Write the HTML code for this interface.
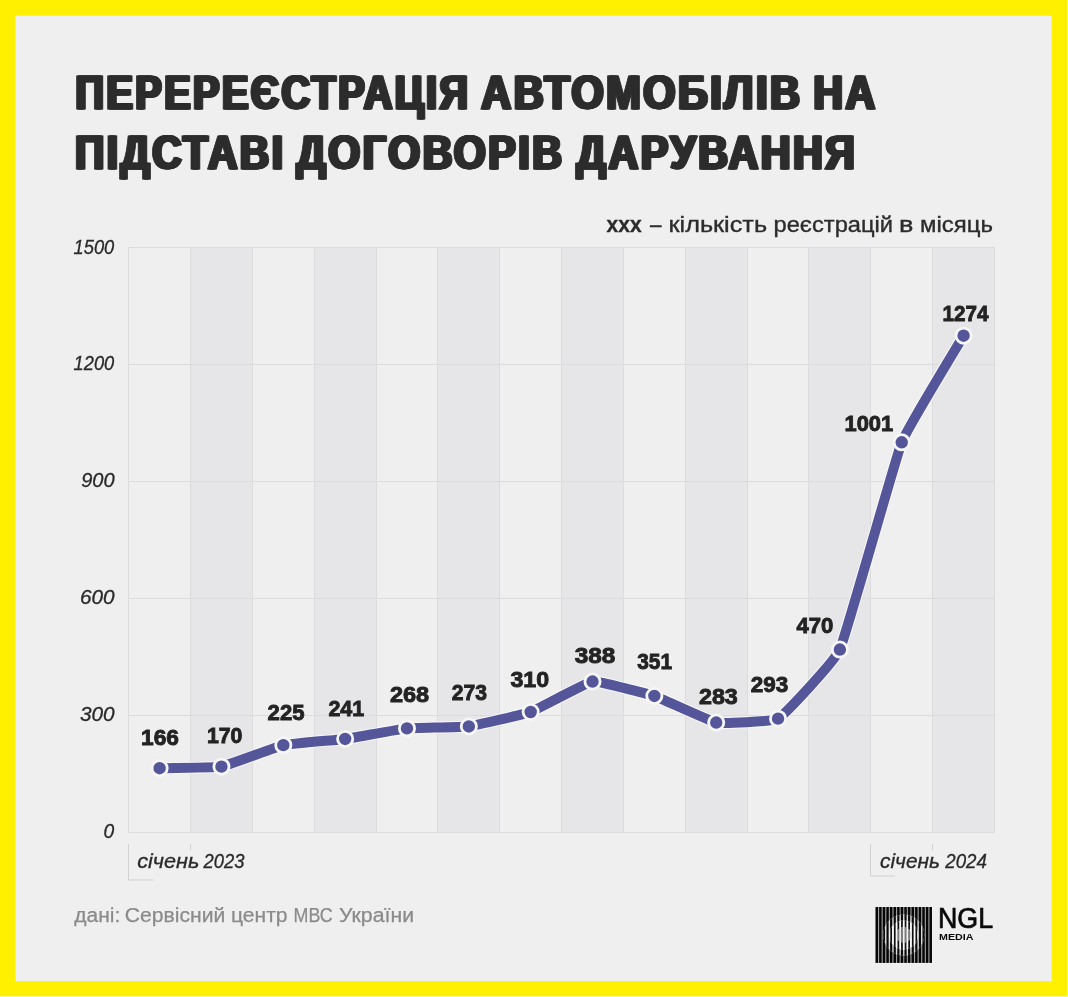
<!DOCTYPE html>
<html lang="uk">
<head>
<meta charset="utf-8">
<title>Перереєстрація автомобілів на підставі договорів дарування</title>
<style>
html,body{margin:0;padding:0;background:#fff000;}
body{width:1068px;height:997px;overflow:hidden;position:relative;font-family:"Liberation Sans",sans-serif;}
svg{position:absolute;left:0;top:0;display:block;}
text{font-family:"Liberation Sans",sans-serif;}
.t{font-weight:700;fill:#2c2c2c;font-size:48.5px;letter-spacing:3px;stroke:#2c2c2c;stroke-width:.9px;stroke-linejoin:miter;filter:drop-shadow(1.6px 0 0 #2c2c2c) drop-shadow(-1.6px 0 0 #2c2c2c);}
.lab{font-weight:700;fill:#232323;font-size:22.8px;stroke:#232323;stroke-width:.9px;}
.ax{font-style:italic;fill:#2a2a2a;font-size:19.6px;stroke:#2a2a2a;stroke-width:.3px;}
.leg{fill:#2c2c2c;font-size:22.5px;stroke:#2c2c2c;stroke-width:.35px;}
.b{font-weight:700;}
.src{fill:#8b8b8b;font-size:20px;stroke:#8b8b8b;stroke-width:.25px;}
.ngl{fill:#0a0a0a;font-size:28.6px;stroke:#0a0a0a;stroke-width:.7px;}
.med{fill:#0a0a0a;font-size:9.3px;font-weight:700;}
</style>
</head>
<body>
<svg width="1068" height="997" viewBox="0 0 1068 997">
<rect x="0" y="0" width="1068" height="997" fill="#fff000"/>
<rect x="1067" y="0" width="1" height="997" fill="#fffa96"/>
<rect x="0" y="996" width="1068" height="1" fill="#fffa96"/>
<rect x="15.5" y="15.7" width="1036.1" height="965.5" fill="#efefef"/>

<g shape-rendering="crispEdges">
<rect x="190.54" y="247.50" width="61.84" height="584.80" fill="#e6e6e8"/>
<rect x="314.23" y="247.50" width="61.84" height="584.80" fill="#e6e6e8"/>
<rect x="437.91" y="247.50" width="61.84" height="584.80" fill="#e6e6e8"/>
<rect x="561.60" y="247.50" width="61.84" height="584.80" fill="#e6e6e8"/>
<rect x="685.29" y="247.50" width="61.84" height="584.80" fill="#e6e6e8"/>
<rect x="808.97" y="247.50" width="61.84" height="584.80" fill="#e6e6e8"/>
<rect x="932.66" y="247.50" width="61.84" height="584.80" fill="#e6e6e8"/>
</g>
<g stroke="#dcdcdc" stroke-width="1" fill="none">
<line x1="128.5" y1="247.5" x2="128.5" y2="832.3"/>
<line x1="190.5" y1="247.5" x2="190.5" y2="832.3"/>
<line x1="252.5" y1="247.5" x2="252.5" y2="832.3"/>
<line x1="314.5" y1="247.5" x2="314.5" y2="832.3"/>
<line x1="376.5" y1="247.5" x2="376.5" y2="832.3"/>
<line x1="437.5" y1="247.5" x2="437.5" y2="832.3"/>
<line x1="499.5" y1="247.5" x2="499.5" y2="832.3"/>
<line x1="561.5" y1="247.5" x2="561.5" y2="832.3"/>
<line x1="623.5" y1="247.5" x2="623.5" y2="832.3"/>
<line x1="685.5" y1="247.5" x2="685.5" y2="832.3"/>
<line x1="747.5" y1="247.5" x2="747.5" y2="832.3"/>
<line x1="808.5" y1="247.5" x2="808.5" y2="832.3"/>
<line x1="870.5" y1="247.5" x2="870.5" y2="832.3"/>
<line x1="932.5" y1="247.5" x2="932.5" y2="832.3"/>
<line x1="994.5" y1="247.5" x2="994.5" y2="832.3"/>
<line x1="128.7" y1="832.5" x2="994.5" y2="832.5"/>
<line x1="128.7" y1="715.5" x2="994.5" y2="715.5"/>
<line x1="128.7" y1="598.5" x2="994.5" y2="598.5"/>
<line x1="128.7" y1="481.5" x2="994.5" y2="481.5"/>
<line x1="128.7" y1="364.5" x2="994.5" y2="364.5"/>
<line x1="128.7" y1="247.5" x2="994.5" y2="247.5"/>
</g>
<g stroke="#d2d2d2" stroke-width="1" fill="none"><path d="M128.5,844 V880.0 H153.0" /><path d="M190.5,844 V850.5"/><path d="M870.5,844 V876.0 H895.0" /><path d="M932.5,844 V850.5"/></g>
<path d="M159.62,768.20 C162.40,768.13 215.90,767.68 221.46,766.64 C227.03,765.61 277.74,746.42 283.31,745.17 C288.87,743.93 339.58,739.68 345.15,738.93 C350.72,738.17 401.43,728.95 406.99,728.39 C412.56,727.83 463.27,727.18 468.84,726.44 C474.40,725.70 525.11,714.02 530.68,712.00 C536.24,709.98 586.96,682.27 592.52,681.55 C598.09,680.83 648.80,694.15 654.36,695.99 C659.93,697.84 710.64,721.52 716.21,722.54 C721.77,723.55 772.48,721.92 778.05,718.63 C783.62,715.35 834.33,661.98 839.89,649.54 C845.46,637.11 896.17,456.40 901.74,442.28 C907.30,428.15 960.80,340.51 963.58,335.72" fill="none" stroke="#fafafa" stroke-width="12" stroke-linejoin="round" stroke-linecap="round" opacity=".85"/>
<path d="M159.62,768.20 C162.40,768.13 215.90,767.68 221.46,766.64 C227.03,765.61 277.74,746.42 283.31,745.17 C288.87,743.93 339.58,739.68 345.15,738.93 C350.72,738.17 401.43,728.95 406.99,728.39 C412.56,727.83 463.27,727.18 468.84,726.44 C474.40,725.70 525.11,714.02 530.68,712.00 C536.24,709.98 586.96,682.27 592.52,681.55 C598.09,680.83 648.80,694.15 654.36,695.99 C659.93,697.84 710.64,721.52 716.21,722.54 C721.77,723.55 772.48,721.92 778.05,718.63 C783.62,715.35 834.33,661.98 839.89,649.54 C845.46,637.11 896.17,456.40 901.74,442.28 C907.30,428.15 960.80,340.51 963.58,335.72" fill="none" stroke="#55569a" stroke-width="10" stroke-linejoin="round" stroke-linecap="round"/>
<g fill="#55569a" stroke="#f6f6f6" stroke-width="2.8">
<circle cx="159.62" cy="768.20" r="7.6"/>
<circle cx="221.46" cy="766.64" r="7.6"/>
<circle cx="283.31" cy="745.17" r="7.6"/>
<circle cx="345.15" cy="738.93" r="7.6"/>
<circle cx="406.99" cy="728.39" r="7.6"/>
<circle cx="468.84" cy="726.44" r="7.6"/>
<circle cx="530.68" cy="712.00" r="7.6"/>
<circle cx="592.52" cy="681.55" r="7.6"/>
<circle cx="654.36" cy="695.99" r="7.6"/>
<circle cx="716.21" cy="722.54" r="7.6"/>
<circle cx="778.05" cy="718.63" r="7.6"/>
<circle cx="839.89" cy="649.54" r="7.6"/>
<circle cx="901.74" cy="442.28" r="7.6"/>
<circle cx="963.58" cy="335.72" r="7.6"/>
</g>
<defs>
<clipPath id="lc1"><circle cx="903.75" cy="934.95" r="20.5"/></clipPath>
<clipPath id="lc2"><circle cx="903.75" cy="934.95" r="14.5"/></clipPath>
<clipPath id="lc3"><circle cx="903.75" cy="934.95" r="7.6"/></clipPath>
</defs>
<g id="logo">
<rect x="875.00" y="906.40" width="57.50" height="57.10" fill="#f7f7f7"/>
<rect x="875.60" y="907.00" width="56.30" height="55.90" fill="#a2a2a2"/>
<g fill="#050505"><rect x="875.55" y="907.00" width="2.45" height="55.90"/><rect x="879.15" y="907.00" width="2.45" height="55.90"/><rect x="882.74" y="907.00" width="2.45" height="55.90"/><rect x="886.34" y="907.00" width="2.45" height="55.90"/><rect x="889.94" y="907.00" width="2.45" height="55.90"/><rect x="893.53" y="907.00" width="2.45" height="55.90"/><rect x="897.13" y="907.00" width="2.45" height="55.90"/><rect x="900.73" y="907.00" width="2.45" height="55.90"/><rect x="904.32" y="907.00" width="2.45" height="55.90"/><rect x="907.92" y="907.00" width="2.45" height="55.90"/><rect x="911.52" y="907.00" width="2.45" height="55.90"/><rect x="915.11" y="907.00" width="2.45" height="55.90"/><rect x="918.71" y="907.00" width="2.45" height="55.90"/><rect x="922.31" y="907.00" width="2.45" height="55.90"/><rect x="925.90" y="907.00" width="2.45" height="55.90"/><rect x="929.50" y="907.00" width="2.45" height="55.90"/></g>
<rect x="875.60" y="907.00" width="56.30" height="55.90" fill="#dedede" clip-path="url(#lc1)"/>
<g fill="#080808" clip-path="url(#lc1)"><rect x="875.70" y="907.00" width="2.15" height="55.90"/><rect x="879.30" y="907.00" width="2.15" height="55.90"/><rect x="882.89" y="907.00" width="2.15" height="55.90"/><rect x="886.49" y="907.00" width="2.15" height="55.90"/><rect x="890.09" y="907.00" width="2.15" height="55.90"/><rect x="893.68" y="907.00" width="2.15" height="55.90"/><rect x="897.28" y="907.00" width="2.15" height="55.90"/><rect x="900.88" y="907.00" width="2.15" height="55.90"/><rect x="904.47" y="907.00" width="2.15" height="55.90"/><rect x="908.07" y="907.00" width="2.15" height="55.90"/><rect x="911.67" y="907.00" width="2.15" height="55.90"/><rect x="915.26" y="907.00" width="2.15" height="55.90"/><rect x="918.86" y="907.00" width="2.15" height="55.90"/><rect x="922.46" y="907.00" width="2.15" height="55.90"/><rect x="926.05" y="907.00" width="2.15" height="55.90"/><rect x="929.65" y="907.00" width="2.15" height="55.90"/></g>
<rect x="875.60" y="907.00" width="56.30" height="55.90" fill="#ffffff" clip-path="url(#lc2)"/>
<g fill="#101010" clip-path="url(#lc2)"><rect x="875.90" y="907.00" width="1.75" height="55.90"/><rect x="879.50" y="907.00" width="1.75" height="55.90"/><rect x="883.09" y="907.00" width="1.75" height="55.90"/><rect x="886.69" y="907.00" width="1.75" height="55.90"/><rect x="890.29" y="907.00" width="1.75" height="55.90"/><rect x="893.88" y="907.00" width="1.75" height="55.90"/><rect x="897.48" y="907.00" width="1.75" height="55.90"/><rect x="901.08" y="907.00" width="1.75" height="55.90"/><rect x="904.67" y="907.00" width="1.75" height="55.90"/><rect x="908.27" y="907.00" width="1.75" height="55.90"/><rect x="911.87" y="907.00" width="1.75" height="55.90"/><rect x="915.46" y="907.00" width="1.75" height="55.90"/><rect x="919.06" y="907.00" width="1.75" height="55.90"/><rect x="922.66" y="907.00" width="1.75" height="55.90"/><rect x="926.25" y="907.00" width="1.75" height="55.90"/><rect x="929.85" y="907.00" width="1.75" height="55.90"/></g>
<rect x="875.60" y="907.00" width="56.30" height="55.90" fill="#f2f2f2" clip-path="url(#lc3)"/>
<g fill="#7c7c7c" clip-path="url(#lc3)"><rect x="875.77" y="907.00" width="2.00" height="55.90"/><rect x="879.37" y="907.00" width="2.00" height="55.90"/><rect x="882.97" y="907.00" width="2.00" height="55.90"/><rect x="886.56" y="907.00" width="2.00" height="55.90"/><rect x="890.16" y="907.00" width="2.00" height="55.90"/><rect x="893.76" y="907.00" width="2.00" height="55.90"/><rect x="897.36" y="907.00" width="2.00" height="55.90"/><rect x="900.95" y="907.00" width="2.00" height="55.90"/><rect x="904.55" y="907.00" width="2.00" height="55.90"/><rect x="908.14" y="907.00" width="2.00" height="55.90"/><rect x="911.74" y="907.00" width="2.00" height="55.90"/><rect x="915.34" y="907.00" width="2.00" height="55.90"/><rect x="918.93" y="907.00" width="2.00" height="55.90"/><rect x="922.53" y="907.00" width="2.00" height="55.90"/><rect x="926.13" y="907.00" width="2.00" height="55.90"/><rect x="929.73" y="907.00" width="2.00" height="55.90"/></g>
</g>
<text class="t" x="76.00" y="109.00" textLength="395.03" lengthAdjust="spacingAndGlyphs">ПЕРЕРЕЄСТРАЦІЯ</text>
<text class="t" x="481.75" y="109.00" textLength="321.26" lengthAdjust="spacingAndGlyphs">АВТОМОБІЛІВ</text>
<text class="t" x="814.00" y="109.00" textLength="64.20" lengthAdjust="spacingAndGlyphs">НА</text>
<text class="t" x="75.50" y="168.50" textLength="210.62" lengthAdjust="spacingAndGlyphs">ПІДСТАВІ</text>
<text class="t" x="297.00" y="168.50" textLength="268.01" lengthAdjust="spacingAndGlyphs">ДОГОВОРІВ</text>
<text class="t" x="577.00" y="168.50" textLength="281.02" lengthAdjust="spacingAndGlyphs">ДАРУВАННЯ</text>
<text class="leg b" x="606.50" y="231.75" textLength="35.09" lengthAdjust="spacingAndGlyphs">xxx</text>
<text class="leg" x="650.00" y="231.75" textLength="11.50" lengthAdjust="spacingAndGlyphs">–</text>
<text class="leg" x="668.50" y="231.75" textLength="98.55" lengthAdjust="spacingAndGlyphs">кількість</text>
<text class="leg" x="773.50" y="231.75" textLength="119.57" lengthAdjust="spacingAndGlyphs">реєстрацій</text>
<text class="leg" x="899.00" y="231.75" textLength="14.38" lengthAdjust="spacingAndGlyphs">в</text>
<text class="leg" x="920.00" y="231.75" textLength="72.87" lengthAdjust="spacingAndGlyphs">місяць</text>
<text class="src" x="74.25" y="922.20" textLength="46.07" lengthAdjust="spacingAndGlyphs">дані:</text>
<text class="src" x="124.75" y="922.20" textLength="100.58" lengthAdjust="spacingAndGlyphs">Сервісний</text>
<text class="src" x="231.00" y="922.20" textLength="56.60" lengthAdjust="spacingAndGlyphs">центр</text>
<text class="src" x="293.50" y="922.20" textLength="39.14" lengthAdjust="spacingAndGlyphs">МВС</text>
<text class="src" x="339.00" y="922.20" textLength="75.06" lengthAdjust="spacingAndGlyphs">України</text>
<text class="ax" x="137.20" y="868.40" textLength="62.11" lengthAdjust="spacingAndGlyphs">січень</text>
<text class="ax" x="203.60" y="868.40" textLength="40.90" lengthAdjust="spacingAndGlyphs">2023</text>
<text class="ax" x="880.00" y="868.40" textLength="60.05" lengthAdjust="spacingAndGlyphs">січень</text>
<text class="ax" x="945.30" y="868.40" textLength="41.63" lengthAdjust="spacingAndGlyphs">2024</text>
<text class="ax" x="103.60" y="838.30" textLength="10.70" lengthAdjust="spacingAndGlyphs">0</text>
<text class="ax" x="80.00" y="721.34" textLength="34.65" lengthAdjust="spacingAndGlyphs">300</text>
<text class="ax" x="80.00" y="604.38" textLength="34.65" lengthAdjust="spacingAndGlyphs">600</text>
<text class="ax" x="81.20" y="487.42" textLength="33.45" lengthAdjust="spacingAndGlyphs">900</text>
<text class="ax" x="73.60" y="370.46" textLength="40.70" lengthAdjust="spacingAndGlyphs">1200</text>
<text class="ax" x="73.60" y="253.50" textLength="40.70" lengthAdjust="spacingAndGlyphs">1500</text>
<text class="lab" x="141.10" y="745.20" textLength="37.86" lengthAdjust="spacingAndGlyphs">166</text>
<text class="lab" x="207.00" y="743.20" textLength="35.44" lengthAdjust="spacingAndGlyphs">170</text>
<text class="lab" x="267.60" y="719.80" textLength="36.86" lengthAdjust="spacingAndGlyphs">225</text>
<text class="lab" x="328.40" y="716.40" textLength="35.86" lengthAdjust="spacingAndGlyphs">241</text>
<text class="lab" x="389.90" y="701.80" textLength="39.30" lengthAdjust="spacingAndGlyphs">268</text>
<text class="lab" x="451.80" y="699.50" textLength="35.21" lengthAdjust="spacingAndGlyphs">273</text>
<text class="lab" x="510.40" y="687.40" textLength="38.65" lengthAdjust="spacingAndGlyphs">310</text>
<text class="lab" x="574.80" y="662.70" textLength="40.62" lengthAdjust="spacingAndGlyphs">388</text>
<text class="lab" x="637.20" y="669.00" textLength="34.80" lengthAdjust="spacingAndGlyphs">351</text>
<text class="lab" x="699.00" y="703.50" textLength="38.82" lengthAdjust="spacingAndGlyphs">283</text>
<text class="lab" x="750.80" y="691.60" textLength="37.50" lengthAdjust="spacingAndGlyphs">293</text>
<text class="lab" x="796.40" y="633.40" textLength="36.90" lengthAdjust="spacingAndGlyphs">470</text>
<text class="lab" x="844.50" y="430.50" textLength="48.70" lengthAdjust="spacingAndGlyphs">1001</text>
<text class="lab" x="942.60" y="320.70" textLength="45.83" lengthAdjust="spacingAndGlyphs">1274</text>
<text class="ngl" x="938.00" y="927.90" textLength="55.12" lengthAdjust="spacingAndGlyphs">NGL</text>
<text class="med" x="939.00" y="939.80" textLength="34.45" lengthAdjust="spacingAndGlyphs">MEDIA</text>
</svg>
</body>
</html>
